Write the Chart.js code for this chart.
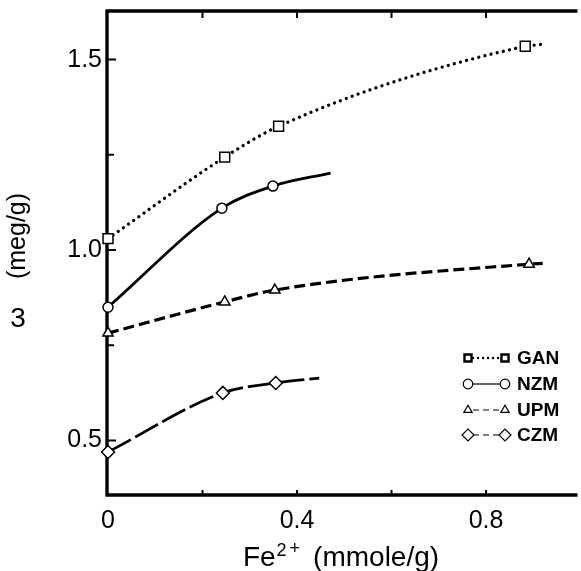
<!DOCTYPE html>
<html><head><meta charset="utf-8">
<script src="https://cdn.jsdelivr.net/npm/chart.js@4"></script>
<style>html,body{margin:0;padding:0;background:#fff;overflow:hidden}#wrap{width:581px;height:571px;position:relative}</style>
</head><body><div id="wrap"><canvas id="c" width="581" height="571"></canvas></div>
<script>
// ---- data ----
const seriesNames = ['GAN', 'NZM', 'UPM', 'CZM'];
const ganX = [0, 0.247, 0.361, 0.883];
const ganY = [1.030, 1.244, 1.325, 1.535];
const ganTail = [0.918, 1.540];
const nzmX = [0, 0.241, 0.349];
const nzmY = [0.850, 1.110, 1.168];
const nzmTail = [0.471, 1.202];
const upmX = [0, 0.247, 0.353, 0.891];
const upmY = [0.782, 0.864, 0.895, 0.963];
const upmTail = [0.920, 0.965];
const czmX = [0, 0.243, 0.355];
const czmY = [0.470, 0.625, 0.651];
const czmTail = [0.447, 0.664];
const xTickValues = [0, 0.4, 0.8];
const xTickLabels = ['0', '0.4', '0.8'];
const xMinorValues = [0.2, 0.6];
const yTickValues = [0.5, 1.0, 1.5];
const yTickLabels = ['0.5', '1.0', '1.5'];
const yMinorValues = [0.75, 1.25];
const xTitleMain = 'Fe', xTitleSup = '2+', xTitleUnit = '(mmole/g)';
const yTitle = '(meg/g)';
const sideMark = '3';

const FONT = "'Liberation Sans', Arial, Helvetica, sans-serif";

function pts(xs, ys, tail) {
  const d = xs.map((x, i) => ({x: x, y: ys[i]}));
  d.push({x: tail[0], y: tail[1]});
  return d;
}
function ds(label, xs, ys, tail, style, r, dash, width, cap) {
  return {
    label: label, data: pts(xs, ys, tail),
    borderColor: '#000', borderWidth: width, borderDash: dash, borderCapStyle: cap,
    cubicInterpolationMode: 'monotone', fill: false, clip: false,
    pointStyle: style,
    pointRadius: c => (c.dataIndex < xs.length ? r : 0),
    pointHoverRadius: c => (c.dataIndex < xs.length ? r : 0),
    pointBackgroundColor: '#fff', pointBorderColor: '#000', pointBorderWidth: 1.5,
    legendStyle: {dash: dash, cap: cap}
  };
}

const datasets = [
  ds(seriesNames[0], ganX, ganY, ganTail, 'rect', 7, [0.01, 6.3], 3.3, 'round'),
  ds(seriesNames[1], nzmX, nzmY, nzmTail, 'circle', 5, [], 2.8, 'butt'),
  ds(seriesNames[2], upmX, upmY, upmTail, 'triangle', 6, [11, 5], 3.2, 'butt'),
  ds(seriesNames[3], czmX, czmY, czmTail, 'rectRot', 6.5, [26, 5], 2.8, 'butt')
];

const framePlugin = {
  id: 'frame',
  beforeDraw(chart) {
    const ctx = chart.ctx;
    ctx.save(); ctx.fillStyle = '#fff'; ctx.fillRect(0, 0, chart.width, chart.height); ctx.restore();
  },
  beforeDatasetsDraw(chart) {
    const ctx = chart.ctx, ca = chart.chartArea;
    const xs = chart.scales.x, ys = chart.scales.y;
    ctx.save();
    ctx.strokeStyle = '#000';
    ctx.lineCap = 'butt';
    ctx.lineWidth = 3.4;
    ctx.beginPath();
    ctx.moveTo(ca.left - 1, ca.top - 2); ctx.lineTo(ca.left - 1, ca.bottom + 1.5);
    ctx.moveTo(ca.left - 2.5, ca.bottom); ctx.lineTo(ca.right + 5, ca.bottom);
    ctx.moveTo(ca.left - 2.5, ca.top - 1); ctx.lineTo(ca.right + 5, ca.top - 1);
    ctx.stroke();
    ctx.lineWidth = 2;
    ctx.beginPath();
    yTickValues.forEach(v => { const p = ys.getPixelForValue(v); ctx.moveTo(ca.left, p); ctx.lineTo(ca.left + 8, p); });
    yMinorValues.forEach(v => { const p = ys.getPixelForValue(v); ctx.moveTo(ca.left, p); ctx.lineTo(ca.left + 6, p); });
    xTickValues.concat(xMinorValues).forEach(v => {
      if (v === 0) return;
      const p = xs.getPixelForValue(v);
      ctx.moveTo(p, ca.bottom); ctx.lineTo(p, ca.bottom - 5);
      ctx.moveTo(p, ca.top); ctx.lineTo(p, ca.top + 6);
    });
    ctx.stroke();
    ctx.restore();
  },
  afterDraw(chart) {
    const ctx = chart.ctx;
    ctx.save();
    ctx.fillStyle = '#000';
    // y title
    ctx.font = '25px ' + FONT;
    ctx.textAlign = 'center'; ctx.textBaseline = 'middle';
    ctx.save(); ctx.translate(18, 236); ctx.rotate(-Math.PI / 2); ctx.fillText(yTitle, 0, 0); ctx.restore();
    ctx.font = '28px ' + FONT;
    ctx.fillText(sideMark, 18, 319);
    // x title
    ctx.textAlign = 'left'; ctx.textBaseline = 'alphabetic';
    const big = '28px ' + FONT, small = '18px ' + FONT;
    ctx.font = big;
    const w1 = ctx.measureText(xTitleMain).width;
    ctx.font = small;
    const w2 = ctx.measureText(xTitleSup).width + 3;
    ctx.font = big;
    const gap = 14;
    const w3 = ctx.measureText(xTitleUnit).width;
    const total = w1 + w2 + gap + w3;
    const x0 = 341 - total / 2;
    const base = 566;
    ctx.fillText(xTitleMain, x0, base);
    ctx.font = small;
    ctx.fillText(xTitleSup.charAt(0), x0 + w1 + 1, base - 10);
    ctx.fillText(xTitleSup.charAt(1), x0 + w1 + 1 + ctx.measureText(xTitleSup.charAt(0)).width + 3, base - 12);
    ctx.font = big;
    ctx.fillText(xTitleUnit, x0 + w1 + w2 + gap, base);
    // legend
    const rows = [358, 384, 410, 435];
    const lx1 = 468, lx2 = 505, tx = 517;
    chart.data.datasets.forEach((d, i) => {
      const y = rows[i];
      ctx.save();
      ctx.strokeStyle = '#000';
      ctx.lineWidth = i === 0 ? 2.4 : 1.2;
      ctx.lineCap = d.legendStyle.cap;
      ctx.setLineDash(i === 0 ? [0.01, 5] : (i === 1 ? [] : [6, 4]));
      ctx.beginPath(); ctx.moveTo(lx1 + 5, y); ctx.lineTo(lx2 - 5, y); ctx.stroke();
      ctx.setLineDash([]);
      ctx.fillStyle = '#fff';
      ctx.strokeStyle = '#000';
      [lx1, lx2].forEach(cx => {
        Chart.helpers.drawPoint(ctx, {pointStyle: d.pointStyle, radius: i === 0 ? 5 : (i === 3 ? 6 : 4.8), borderWidth: 1.3, rotation: 0}, cx, y);
      });
      ctx.restore();
      ctx.font = 'bold 19px ' + FONT;
      ctx.textAlign = 'left'; ctx.textBaseline = 'middle';
      ctx.fillStyle = '#000';
      ctx.fillText(d.label, tx, y + 1);
    });
    ctx.restore();
  }
};

new Chart(document.getElementById('c'), {
  type: 'line',
  data: {datasets: datasets},
  options: {
    responsive: false, animation: false, devicePixelRatio: 1,
    layout: {padding: {top: 12, left: 0, right: 0, bottom: 0}},
    plugins: {legend: {display: false}, tooltip: {enabled: false}},
    scales: {
      x: {
        type: 'linear', min: 0, max: 0.983,
        afterBuildTicks: s => { s.ticks = xTickValues.map(v => ({value: v})); },
        ticks: {callback: (v, i) => xTickLabels[i], font: {family: FONT, size: 25}, color: '#000', padding: 11, maxRotation: 0, autoSkip: false},
        grid: {display: false, drawTicks: false}, border: {display: false},
        afterFit: s => { s.height = 76; s.paddingLeft = 0; s.paddingRight = 0; }
      },
      y: {
        type: 'linear', min: 0.357, max: 1.625,
        afterBuildTicks: s => { s.ticks = yTickValues.map(v => ({value: v})); },
        ticks: {callback: (v, i) => yTickLabels[i], font: {family: FONT, size: 25}, color: '#000', padding: 6, autoSkip: false},
        grid: {display: false, drawTicks: false}, border: {display: false},
        afterFit: s => { s.width = 108; s.paddingTop = 0; s.paddingBottom = 0; }
      }
    }
  },
  plugins: [framePlugin]
});
</script></body></html>
